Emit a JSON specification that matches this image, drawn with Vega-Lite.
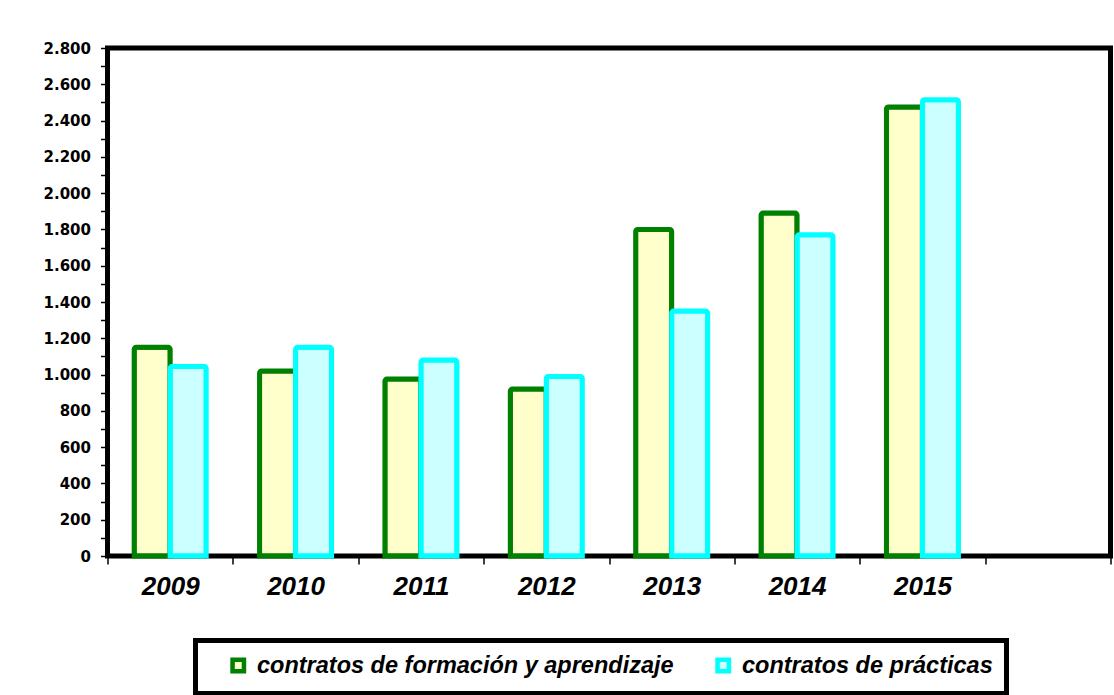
{
  "$schema": "https://vega.github.io/schema/vega-lite/v6.json",
  "width": 1003,
  "height": 508,
  "autosize": {"type": "none"},
  "padding": {"left": 107.5, "top": 48, "right": 3.5, "bottom": 139},
  "background": "white",
  "config": {
    "view": {"stroke": "black", "strokeWidth": 5},
    "axis": {"domain": false, "grid": false, "tickColor": "black", "tickWidth": 1.5, "labelColor": "black"}
  },
  "data": {
    "values": [
      {"year": "2009", "serie": "contratos de formación y aprendizaje", "valor": 1150},
      {"year": "2009", "serie": "contratos de prácticas", "valor": 1045},
      {"year": "2010", "serie": "contratos de formación y aprendizaje", "valor": 1020},
      {"year": "2010", "serie": "contratos de prácticas", "valor": 1150},
      {"year": "2011", "serie": "contratos de formación y aprendizaje", "valor": 975},
      {"year": "2011", "serie": "contratos de prácticas", "valor": 1080},
      {"year": "2012", "serie": "contratos de formación y aprendizaje", "valor": 920},
      {"year": "2012", "serie": "contratos de prácticas", "valor": 990},
      {"year": "2013", "serie": "contratos de formación y aprendizaje", "valor": 1800},
      {"year": "2013", "serie": "contratos de prácticas", "valor": 1350},
      {"year": "2014", "serie": "contratos de formación y aprendizaje", "valor": 1890},
      {"year": "2014", "serie": "contratos de prácticas", "valor": 1770},
      {"year": "2015", "serie": "contratos de formación y aprendizaje", "valor": 2475},
      {"year": "2015", "serie": "contratos de prácticas", "valor": 2515}
    ]
  },
  "mark": {"type": "bar", "strokeWidth": 5, "cornerRadiusTopLeft": 2, "cornerRadiusTopRight": 2},
  "encoding": {
    "x": {
      "field": "year",
      "type": "nominal",
      "scale": {"domain": ["2009", "2010", "2011", "2012", "2013", "2014", "2015", " "], "paddingInner": 0, "paddingOuter": 0},
      "axis": {
        "title": null,
        "labelAngle": 0,
        "tickBand": "extent",
        "tickSize": 8,
        "labelPadding": 9,
        "labelFont": "Liberation Sans",
        "labelFontSize": 26,
        "labelFontStyle": "italic",
        "labelFontWeight": "bold"
      }
    },
    "xOffset": {
      "field": "serie",
      "type": "nominal",
      "scale": {"domain": ["contratos de formación y aprendizaje", "contratos de prácticas"], "paddingInner": 0, "paddingOuter": 0.741}
    },
    "y": {
      "field": "valor",
      "type": "quantitative",
      "scale": {"domain": [0, 2800], "nice": false},
      "axis": {
        "title": null,
        "values": [0, 100, 200, 300, 400, 500, 600, 700, 800, 900, 1000, 1100, 1200, 1300, 1400, 1500, 1600, 1700, 1800, 1900, 2000, 2100, 2200, 2300, 2400, 2500, 2600, 2700, 2800],
        "labelExpr": "datum.value % 200 === 0 ? replace(format(datum.value, ',d'), ',', '.') : ''",
        "tickSize": 7,
        "labelPadding": 10,
        "labelFont": "DejaVu Sans",
        "labelFontSize": 15,
        "labelFontWeight": "bold"
      }
    },
    "fill": {
      "field": "serie",
      "type": "nominal",
      "scale": {"domain": ["contratos de formación y aprendizaje", "contratos de prácticas"], "range": ["#FFFFCC", "#CCFFFF"]},
      "legend": {
        "orient": "none",
        "legendX": 88,
        "legendY": 592.5,
        "direction": "horizontal",
        "title": "\u00a0",
        "titleOrient": "left",
        "titleFontSize": 24,
        "titlePadding": 18,
        "padding": 13,
        "strokeColor": "black",
        "fillColor": "white",
        "symbolType": "square",
        "symbolSize": 130,
        "symbolStrokeWidth": 4.5,
        "labelFont": "Liberation Sans",
        "labelFontSize": 23.5,
        "labelFontStyle": "italic",
        "labelFontWeight": "bold",
        "labelColor": "black",
        "labelOffset": 7,
        "labelLimit": 0,
        "columnPadding": 34,
        "encode": {"legend": {"update": {"stroke": {"value": "black"}, "strokeWidth": {"value": 5}}}}
      }
    },
    "stroke": {
      "field": "serie",
      "type": "nominal",
      "scale": {"domain": ["contratos de formación y aprendizaje", "contratos de prácticas"], "range": ["#008000", "#00FFFF"]},
      "legend": {
        "orient": "none",
        "legendX": 88,
        "legendY": 592.5,
        "direction": "horizontal",
        "title": "\u00a0",
        "titleOrient": "left",
        "titleFontSize": 24,
        "titlePadding": 18,
        "padding": 13,
        "strokeColor": "black",
        "fillColor": "white",
        "symbolType": "square",
        "symbolSize": 130,
        "symbolStrokeWidth": 4.5,
        "labelFont": "Liberation Sans",
        "labelFontSize": 23.5,
        "labelFontStyle": "italic",
        "labelFontWeight": "bold",
        "labelColor": "black",
        "labelOffset": 7,
        "labelLimit": 0,
        "columnPadding": 34,
        "encode": {"legend": {"update": {"stroke": {"value": "black"}, "strokeWidth": {"value": 5}}}}
      }
    }
  }
}
